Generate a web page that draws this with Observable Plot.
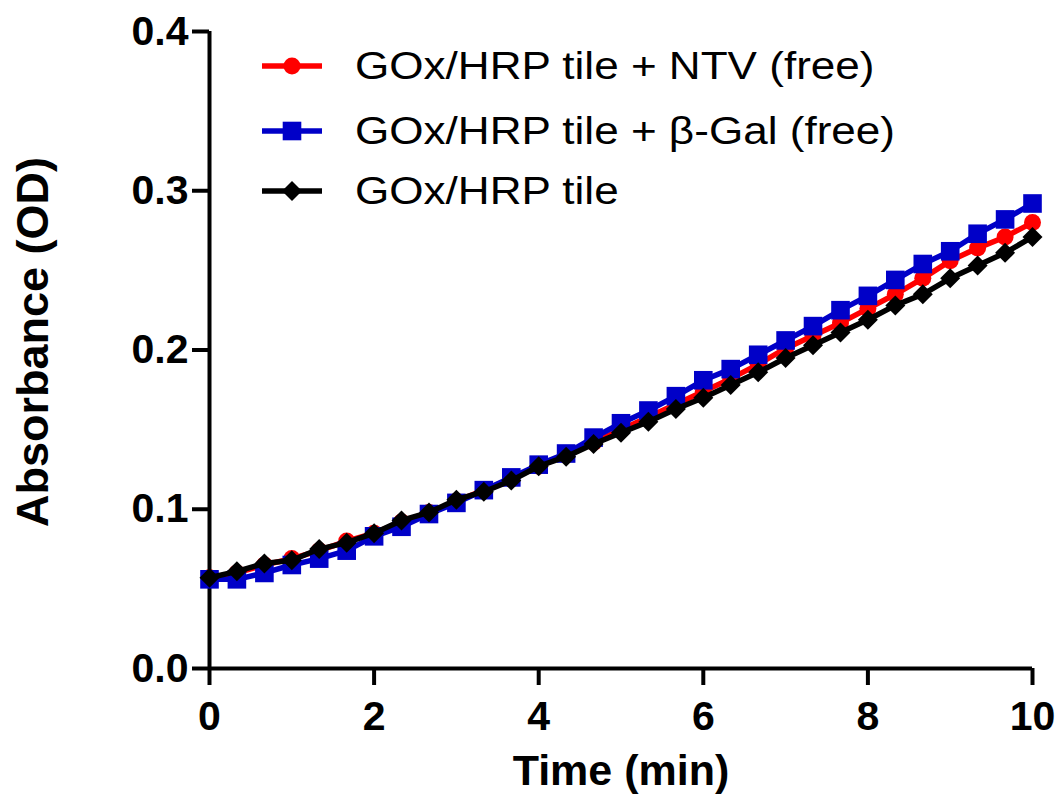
<!DOCTYPE html>
<html><head><meta charset="utf-8">
<script src="https://cdn.jsdelivr.net/npm/d3@7"></script>
<script src="https://cdn.jsdelivr.net/npm/@observablehq/plot@0.6"></script>
<style>
body{margin:0;background:#fff;}
#wrap{position:relative;width:1061px;height:798px;font-family:"Liberation Sans",Arial,sans-serif;}
#legend{position:absolute;left:0;top:0;pointer-events:none;}
</style></head><body><div id="wrap"></div>
<script>
const time = [0,0.333,0.667,1,1.333,1.667,2,2.333,2.667,3,3.333,3.667,4,4.333,4.667,5,5.333,5.667,6,6.333,6.667,7,7.333,7.667,8,8.333,8.667,9,9.333,9.667,10];
const ntvFree = [0.057,0.060,0.065,0.069,0.074,0.080,0.085,0.092,0.098,0.105,0.112,0.119,0.127,0.134,0.142,0.150,0.158,0.166,0.174,0.182,0.191,0.201,0.209,0.217,0.226,0.235,0.245,0.256,0.264,0.271,0.280];
const bgalFree = [0.056,0.056,0.060,0.065,0.069,0.074,0.083,0.089,0.097,0.104,0.112,0.120,0.128,0.135,0.145,0.154,0.162,0.171,0.181,0.188,0.197,0.206,0.215,0.225,0.234,0.244,0.254,0.262,0.273,0.282,0.292];
const tileOnly = [0.057,0.061,0.066,0.068,0.075,0.079,0.085,0.093,0.098,0.106,0.111,0.118,0.127,0.133,0.141,0.148,0.155,0.163,0.170,0.178,0.186,0.195,0.203,0.211,0.219,0.228,0.235,0.245,0.253,0.261,0.271];

const seriesNames = ["GOx/HRP tile + NTV (free)", "GOx/HRP tile + \u03B2-Gal (free)", "GOx/HRP tile"];
const seriesColors = ["#ff0000", "#0000c8", "#000000"];
const xTicks = [0,2,4,6,8,10];
const yTicks = [0,0.1,0.2,0.3,0.4];
const xTitle = "Time (min)";
const yTitle = "Absorbance (OD)";

const seriesValues = [ntvFree, bgalFree, tileOnly];
const seriesSymbols = [d3.symbolCircle, d3.symbolSquare, d3.symbolDiamond2 || d3.symbolDiamond];
const seriesR = [8.5, 10.5, 9];

const tables = seriesValues.map((vals, i) => vals.map((v, j) => ({series: seriesNames[i], t: time[j], od: v})));

const seriesMarks = [];
[0, 1, 2].forEach(i => {
  seriesMarks.push(Plot.line(tables[i], {x: "t", y: "od", stroke: seriesColors[i], strokeWidth: 5.5}));
  seriesMarks.push(Plot.dot(tables[i], {x: "t", y: "od", fill: seriesColors[i], stroke: "none", symbol: seriesSymbols[i], r: seriesR[i]}));
});

const chart = Plot.plot({
  width: 1061, height: 798,
  marginLeft: 209, marginRight: 29, marginTop: 31, marginBottom: 130,
  x: {domain: [0, 10]},
  y: {domain: [0, 0.4]},
  style: {fontFamily: "'Liberation Sans', Arial, sans-serif", background: "white", color: "black", overflow: "visible"},
  marks: [
    Plot.ruleX([0], {stroke: "black", strokeWidth: 4}),
    Plot.ruleY([0], {stroke: "black", strokeWidth: 4}),
    Plot.axisX({ticks: xTicks, tickSize: 17, tickPadding: 15, strokeWidth: 4, fontSize: 41, fontWeight: "bold", label: null}),
    Plot.axisY({ticks: yTicks, tickSize: 17, tickPadding: 4, strokeWidth: 4, fontSize: 41, fontWeight: "bold", tickFormat: d => d.toFixed(1), label: null}),
    ...seriesMarks,
    Plot.text([xTitle], {text: d => d, frameAnchor: "bottom", dy: 103, fontSize: 43, fontWeight: "bold", lineAnchor: "middle", textAnchor: "middle"}),
    Plot.text([yTitle], {text: d => d, frameAnchor: "left", dx: -176, dy: -8, rotate: -90, fontSize: 45, fontWeight: "bold", lineAnchor: "middle", textAnchor: "middle"})
  ]
});
const wrap = document.getElementById("wrap");
wrap.appendChild(chart);

// legend overlay
const legendRowsY = [66, 131, 191];
const lg = d3.select(wrap).append("svg").attr("id", "legend").attr("width", 1061).attr("height", 798);
seriesNames.forEach((name, i) => {
  const g = lg.append("g").attr("transform", `translate(0,${legendRowsY[i]})`);
  g.append("line").attr("x1", 262).attr("x2", 322).attr("y1", 0).attr("y2", 0)
    .attr("stroke", seriesColors[i]).attr("stroke-width", 5.5);
  g.append("path").attr("transform", "translate(292,0)")
    .attr("d", d3.symbol(seriesSymbols[i], Math.PI * seriesR[i] * seriesR[i])())
    .attr("fill", seriesColors[i]);
  g.append("text").attr("transform", "translate(355,0) scale(1.16,1)").attr("dy", "0.35em")
    .attr("font-family", "'Liberation Sans', Arial, sans-serif").attr("font-size", 38)
    .attr("fill", "black").text(name);
});
</script>
</body></html>
